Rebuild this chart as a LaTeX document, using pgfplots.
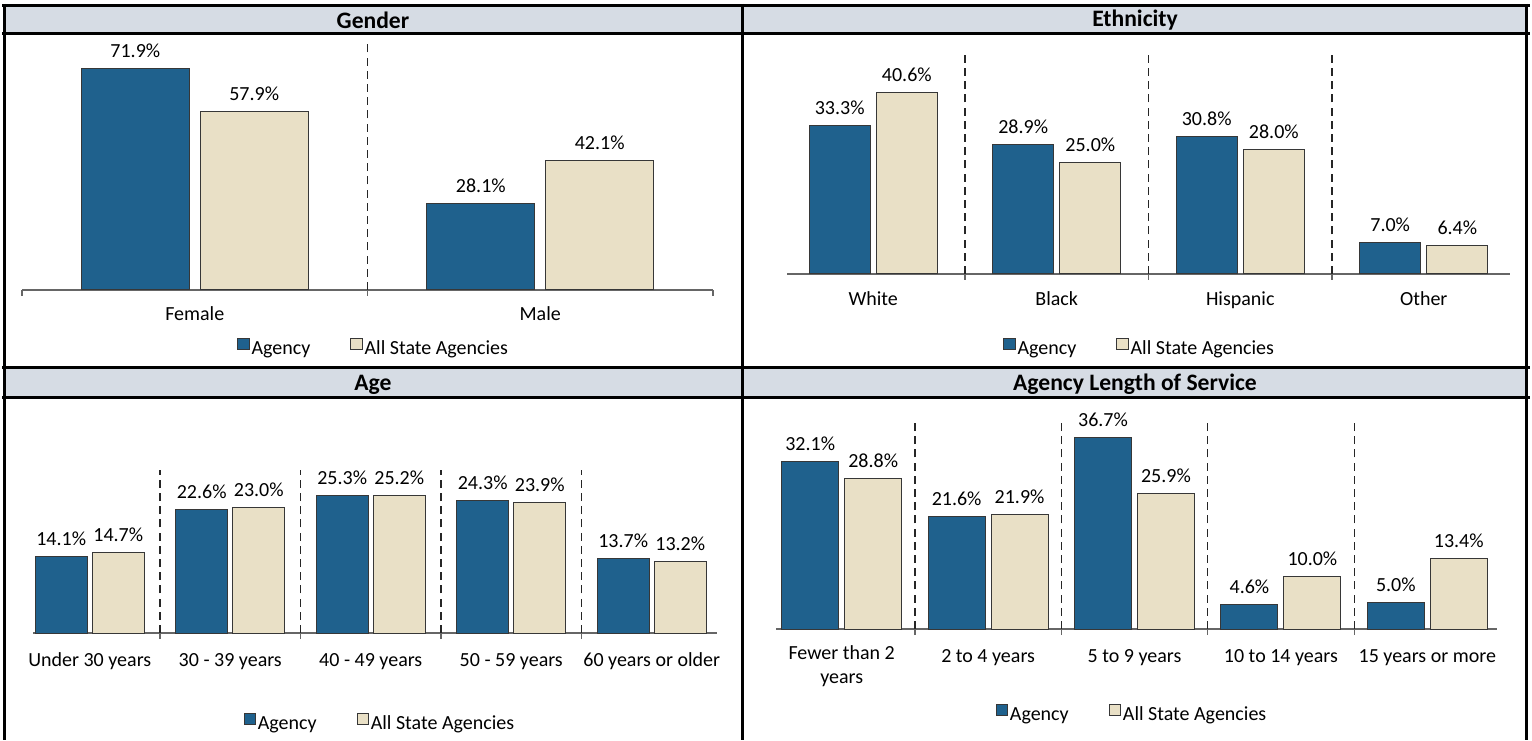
\documentclass[border=0pt]{standalone}
\usepackage{fontspec}
\setmainfont{Carlito}
\usepackage{pgfplots}
\pgfplotsset{compat=1.18}
\definecolor{agency}{RGB}{31,97,141}
\definecolor{allst}{RGB}{233,224,198}
\definecolor{hdr}{RGB}{214,220,228}
\definecolor{edge}{RGB}{55,55,55}
\newcommand{\lf}{\fontsize{10}{12}\selectfont}
\pgfplotsset{
  panel/.style={
    scale only axis, ybar, ymin=0, clip=false,
    axis y line=none, axis x line*=bottom,
    /pgf/number format/assume math mode=true,
    x axis line style={-, black!60, line width=0.6pt},
    xtick={0,1,2,3,4}, major tick length=0pt,
    tick align=outside,
    tick style={black!60, line width=0.6pt},
    major grid style={black!85, line width=0.6pt, dash pattern=on 4pt off 2.6pt},
    extra x tick labels={},
    extra x tick style={grid=major, major tick length=3pt, tick align=outside},
    xticklabel style={font=\lf, anchor=base, inner sep=0pt, align=center},
    nodes near coords={\pgfmathprintnumber[fixed,fixed zerofill,precision=1]{\pgfplotspointmeta}\%},
    every node near coord/.append style={font=\lf, anchor=base, inner sep=0pt, yshift=5.5pt, black},
    legend columns=2,
    legend image code/.code={\draw[#1, line width=0.5pt] (0pt,-0.2pt) rectangle (5.6pt,5.4pt);},
    legend style={draw=none, fill=none, font=\lf, anchor=center, inner sep=0pt,
      nodes={inner sep=1pt},
      /tikz/every odd column/.append style={column sep=0pt},
      /tikz/every even column/.append style={column sep=19pt}},
  },
  ag/.style={fill=agency, draw=edge, line width=0.5pt},
  al/.style={fill=allst, draw=edge, line width=0.5pt},
}
\begin{document}
\begin{tikzpicture}
\useasboundingbox (0,0) rectangle (766pt,370pt);
\begin{scope}[x=0.5pt,y=0.5pt]
  \fill[hdr] (4,708) rectangle (1526,733);
  \fill[hdr] (4,344) rectangle (1526,371);
  \draw[line width=1.5pt] (2,734.5) -- (1530,734.5);
  \draw[line width=1.5pt] (2,706.5) -- (1530,706.5);
  \draw[line width=1.5pt] (2,372.5) -- (1530,372.5);
  \draw[line width=1.5pt] (2,342.5) -- (1530,342.5);
  \draw[line width=1.5pt] (4,736) -- (4,0);
  \draw[line width=1.5pt] (742.5,736) -- (742.5,0);
  \draw[line width=1.5pt] (1526.5,736) -- (1526.5,0);
  \tikzset{ttl/.style={font=\bfseries\fontsize{11.8}{13}\selectfont}}
  \node[ttl] at (373,720) {Gender};
  \node[ttl] at (1135,720) {Ethnicity};
  \node[ttl] at (373,355.5) {Age};
  \node[ttl] at (1135,355.5) {Agency Length of Service};
\end{scope}

% Gender
\begin{axis}[panel, at={(11pt,225pt)}, anchor=south west,
  width=345.5pt, height=123.2pt, xmin=-0.5, xmax=1.5, ymax=80,
  xtick={0,1}, xticklabels={Female, Male},
  xticklabel style={yshift=-15.4pt},
  minor xtick={-0.5,1.5}, minor tick length=3pt,
  extra x ticks={0.5},
  legend style={at={(0.509,-0.239)}}]
\addplot[ag, bar width=0.313, bar shift=-0.172] coordinates {(0,71.9) (1,28.1)};
\addplot[al, bar width=0.313, bar shift=0.172] coordinates {(0,57.9) (1,42.1)};
\legend{Agency, All State Agencies}
\end{axis}

% Ethnicity
\begin{axis}[panel, at={(390.75pt,233pt)}, anchor=south west,
  width=367pt, height=111.6pt, xmin=-0.5, xmax=3.5, ymax=50,
  xtick={0,1,2,3}, xticklabels={White, Black, Hispanic, Other},
  xticklabel style={yshift=-15.9pt},
  x axis line style={shorten <=2.75pt, shorten >=2.75pt},
  extra x ticks={0.5,1.5,2.5},
  legend style={at={(0.488,-0.336)}}]
\addplot[ag, bar width=0.332, bar shift=-0.183] coordinates {(0,33.3) (1,28.9) (2,30.8) (3,7.0)};
\addplot[al, bar width=0.332, bar shift=0.183] coordinates {(0,40.6) (1,25.0) (2,28.0) (3,6.4)};
\legend{Agency, All State Agencies}
\end{axis}

% Age
\begin{axis}[panel, at={(9.75pt,53.5pt)}, anchor=south west,
  width=351.25pt, height=81.75pt, xmin=-0.5, xmax=4.5, ymax=30,
  xtick={0,1,2,3,4}, xticklabels={Under 30 years, 30 - 39 years, 40 - 49 years, 50 - 59 years, 60 years or older},
  xticklabel style={yshift=-16.9pt},
  x axis line style={shorten <=6.75pt, shorten >=2.5pt},
  extra x ticks={0.5,1.5,2.5,3.5},
  legend style={at={(0.513,-0.556)}}]
\addplot[ag, bar width=0.37, bar shift=-0.203] coordinates {(0,14.1) (1,22.6) (2,25.3) (3,24.3) (4,13.7)};
\addplot[al, bar width=0.37, bar shift=0.203] coordinates {(0,14.7) (1,23.0) (2,25.2) (3,23.9) (4,13.2)};
\legend{Agency, All State Agencies}
\end{axis}

% Agency Length of Service
\begin{axis}[panel, at={(384.25pt,55.5pt)}, anchor=south west,
  width=366pt, height=104.6pt, xmin=-0.5, xmax=4.5, ymax=40,
  xtick={0,1,2,3,4}, xticklabels={Fewer than 2\\years, 2 to 4 years, 5 to 9 years, 10 to 14 years, 15 years or more},
  xticklabel style={anchor=north, execute at begin node=\strut, yshift=-8pt},
  x axis line style={shorten <=3.75pt, shorten >=1.75pt},
  extra x ticks={0.5,1.5,2.5,3.5},
  legend style={at={(0.4966,-0.411)}}]
\addplot[ag, bar width=0.389, bar shift=-0.215] coordinates {(0,32.1) (1,21.6) (2,36.7) (3,4.6) (4,5.0)};
\addplot[al, bar width=0.389, bar shift=0.215] coordinates {(0,28.8) (1,21.9) (2,25.9) (3,10.0) (4,13.4)};
\legend{Agency, All State Agencies}
\end{axis}
\end{tikzpicture}
\end{document}
